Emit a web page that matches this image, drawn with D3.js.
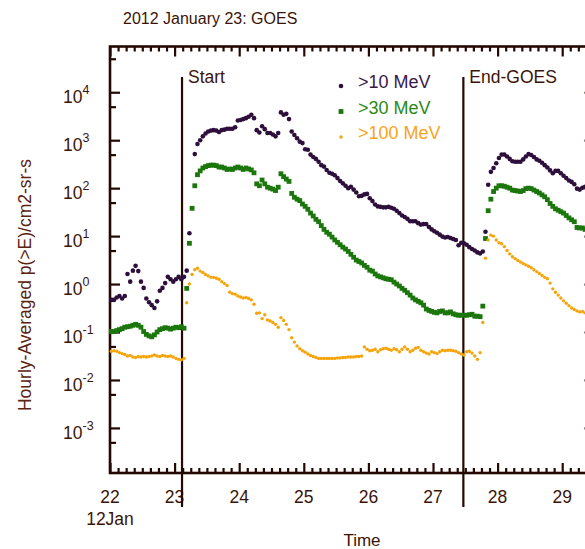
<!DOCTYPE html>
<html>
<head>
<meta charset="utf-8">
<script src="https://cdn.jsdelivr.net/npm/d3@7"></script>
<style>
	body { margin: 0; background: #fff; }
	svg { display: block; font-family: Arial, "Liberation Sans", Helvetica, sans-serif; }
</style>
</head>
<body>
<div id="chart"></div>
<script>
// hourly averaged GOES proton flux, log10 of p(>E)/cm2-sr-s
// first value is the hour 2012 Jan 22 00-01 UT, one value per hour
var startDay = 22;
var p10log = [
	-0.33,-0.33,-0.28,-0.25,-0.30,-0.25,0.21,0.05,0.28,0.38,0.27,0.05,-0.08,-0.30,-0.38,-0.44,-0.50,-0.36,-0.14,-0.08,0.02,0.15,0.10,0.05,0.10,0.15,0.10,0.15,
	0.28,1.06,null,2.71,2.92,3.00,3.08,3.14,3.18,3.20,3.21,3.20,3.17,3.21,3.22,3.24,3.24,3.24,3.27,3.41,3.42,3.44,3.46,3.49,3.53,3.46,3.21,3.16,3.29,3.23,3.15,3.15,3.12,3.08,3.15,3.58,3.53,3.55,3.44,3.18,3.11,3.04,2.97,2.94,2.81,2.80,2.70,2.65,2.61,2.55,
	2.48,2.45,2.38,2.32,2.30,2.27,2.21,2.15,2.10,2.05,2.00,2.03,1.97,1.91,1.83,1.84,1.87,1.88,1.79,1.73,1.66,1.62,1.61,1.60,1.60,1.61,1.59,1.57,1.53,1.48,1.43,1.40,1.36,1.31,1.31,1.31,1.27,1.24,1.25,1.25,1.19,1.14,1.10,1.07,1.03,0.99,0.97,0.98,0.96,0.94,0.92,0.81,0.86,0.85,0.82,0.77,0.73,0.70,0.66,0.64,0.68,
	1.09,2.07,2.34,2.42,2.52,2.63,2.70,2.70,2.66,2.61,2.56,2.55,2.55,2.55,2.60,2.66,2.71,2.69,2.65,2.60,2.57,2.53,2.48,2.43,2.37,2.31,2.36,2.36,2.31,2.26,2.21,2.16,2.13,2.08,1.99,1.97,2.01,2.03
];
var p30log = [
	-0.99,-0.99,-0.97,-0.95,-0.93,-0.90,-0.89,-0.88,-0.86,-0.84,-0.86,-0.90,-0.99,-1.05,-1.08,-1.10,-1.06,-1.00,-0.95,-0.93,-0.91,-0.92,-0.94,-0.92,-0.90,-0.91,-0.89,-0.92,
	-0.09,0.85,1.58,2.05,2.28,2.36,2.42,2.45,2.47,2.48,2.48,2.47,2.44,2.44,2.42,2.39,2.40,2.39,2.42,2.44,2.42,2.39,2.42,2.40,2.38,2.32,2.09,2.05,2.17,2.09,2.02,2.00,1.98,1.95,2.02,2.30,2.24,2.19,2.14,1.89,1.81,1.77,1.74,1.67,1.62,1.56,1.48,1.42,1.35,1.30,
	1.22,1.14,1.08,1.04,0.98,0.92,0.87,0.82,0.77,0.73,0.68,0.62,0.56,0.50,0.47,0.44,0.39,0.35,0.29,0.27,0.21,0.17,0.15,0.13,0.11,0.10,0.09,0.04,0.00,-0.04,-0.09,-0.13,-0.18,-0.23,-0.29,-0.33,-0.36,-0.39,-0.44,-0.52,-0.55,-0.57,-0.59,-0.60,-0.57,-0.56,-0.60,-0.60,-0.58,-0.62,-0.64,-0.65,-0.65,-0.65,-0.65,-0.64,-0.63,-0.67,-0.67,-0.68,-0.46,
	0.95,1.53,1.77,1.93,2.00,2.05,2.05,2.04,2.02,2.00,1.96,1.95,1.94,1.93,1.95,1.99,2.00,1.99,1.96,1.93,1.90,1.86,1.82,1.76,1.68,1.62,1.57,1.54,1.51,1.48,1.43,1.38,1.34,1.30,1.18,1.17,1.17,1.14
];
var p100log = [
	-1.40,-1.39,-1.40,-1.43,-1.45,-1.47,-1.50,-1.49,-1.52,-1.53,-1.51,-1.52,-1.51,-1.52,-1.51,-1.50,-1.48,-1.50,-1.51,-1.49,-1.50,-1.51,-1.50,-1.52,-1.55,-1.57,-1.58,-1.55,
	-0.39,0.00,0.20,0.30,0.33,0.27,0.24,0.20,0.17,0.14,0.14,0.12,0.10,0.05,0.01,-0.03,-0.17,-0.20,-0.21,-0.25,-0.27,-0.29,-0.28,-0.30,-0.33,-0.42,-0.61,-0.60,-0.72,-0.64,-0.75,-0.77,-0.80,-0.84,-0.90,-0.70,-0.76,-0.84,-0.95,-1.12,-1.21,-1.29,-1.35,-1.39,-1.42,-1.46,-1.49,-1.51,-1.53,-1.55,
	-1.55,-1.55,-1.55,-1.55,-1.55,-1.55,-1.54,-1.54,-1.53,-1.53,-1.52,-1.52,-1.52,-1.51,-1.51,-1.50,-1.31,-1.36,-1.39,-1.38,-1.36,-1.41,-1.37,-1.35,-1.34,-1.36,-1.38,-1.35,-1.37,-1.41,-1.36,-1.31,-1.36,-1.41,-1.38,-1.34,-1.32,-1.38,-1.41,-1.44,-1.46,-1.41,-1.43,-1.45,-1.41,-1.38,-1.39,-1.38,-1.38,-1.39,-1.40,-1.43,-1.46,-1.48,-1.41,-1.40,-1.44,-1.50,-1.57,-1.43,-0.80,
	0.54,0.92,1.02,1.00,0.92,0.86,0.84,0.78,0.70,0.63,0.57,0.53,0.49,0.46,0.43,0.40,0.37,0.34,0.30,0.26,0.22,0.18,0.14,0.11,0.02,-0.10,-0.17,-0.23,-0.29,-0.35,-0.40,-0.45,-0.50,-0.53,-0.56,-0.58,-0.57,-0.60
];

var seriesNames = ['>10 MeV', '>30 MeV', '>100 MeV'];
var dayTicks = [22, 23, 24, 25, 26, 27, 28, 29];
var decadeTicks = [-3, -2, -1, 0, 1, 2, 3, 4];
var eventLines = [{ day: 23.115, label: 'Start' }, { day: 27.47, label: 'End-GOES' }];

var params = {
	width: 585, height: 549,
	left: 110, right: 594.5, top: 46.5, bottom: 473,
	axisColor: '#240801', textColor: '#3a1407',
	colors: ['#2e0f3c', '#1b760c', '#f6a40a'],
	legendColors: ['#3a1848', '#2a8a12', '#f5a51a']
};

var svg = d3.select('#chart').append('svg')
	.attr('width', params.width)
	.attr('height', params.height);

var x = d3.scaleLinear().domain([22, 29.5]).range([params.left, params.right]);
var y = d3.scaleLog().domain([Math.pow(10, -3.94), Math.pow(10, 4.954)]).range([params.bottom, params.top]);

// minor time ticks every 3 hours
var minorDays = d3.range(22 * 8, 29.5 * 8 + 1).map(function(d) { return d / 8; })
	.filter(function(d) { return d % 1 !== 0; });
var majorFlux = decadeTicks.map(function(e) { return Math.pow(10, e); });
var minorFlux = d3.range(-4, 5).map(function(e) { return 5 * Math.pow(10, e); })
	.filter(function(v) { return v > y.domain()[0] && v < y.domain()[1]; });

function styleAxis(g) {
	g.select('.domain').remove();
	g.selectAll('line').attr('stroke', params.axisColor).attr('stroke-width', 2.2);
}

// time axes, ticks pointing inward
svg.append('g').attr('transform', 'translate(0,' + params.bottom + ')')
	.call(d3.axisBottom(x).tickValues(dayTicks).tickSize(-10).tickFormat(''))
	.call(styleAxis);
svg.append('g').attr('transform', 'translate(0,' + params.bottom + ')')
	.call(d3.axisBottom(x).tickValues(minorDays).tickSize(-5).tickFormat(''))
	.call(styleAxis);
svg.append('g').attr('transform', 'translate(0,' + params.top + ')')
	.call(d3.axisTop(x).tickValues(dayTicks).tickSize(-10).tickFormat(''))
	.call(styleAxis);
svg.append('g').attr('transform', 'translate(0,' + params.top + ')')
	.call(d3.axisTop(x).tickValues(minorDays).tickSize(-5).tickFormat(''))
	.call(styleAxis);

// flux axes, ticks pointing inward
[[d3.axisLeft, params.left], [d3.axisRight, params.right]].forEach(function(a) {
	svg.append('g').attr('transform', 'translate(' + a[1] + ',0)')
		.call(a[0](y).tickValues(majorFlux).tickSize(-10).tickFormat(''))
		.call(styleAxis);
	svg.append('g').attr('transform', 'translate(' + a[1] + ',0)')
		.call(a[0](y).tickValues(minorFlux).tickSize(-6).tickFormat(''))
		.call(styleAxis);
});

// frame
svg.append('rect')
	.attr('x', params.left).attr('y', params.top)
	.attr('width', params.right - params.left).attr('height', params.bottom - params.top)
	.attr('fill', 'none').attr('stroke', params.axisColor).attr('stroke-width', 2.6);

// y tick labels 10^n
var yLab = svg.selectAll('.ylab').data(decadeTicks).enter()
	.append('text').attr('class', 'ylab')
	.attr('x', 63).attr('y', function(d) { return y(Math.pow(10, d)) + 11; })
	.attr('fill', params.textColor).style('font-size', '17.5px');
yLab.append('tspan').text('10');
yLab.append('tspan').attr('dy', -9).style('font-size', '12.5px').text(function(d) { return d; });

// x tick labels
svg.selectAll('.xlab').data(dayTicks).enter()
	.append('text').attr('class', 'xlab')
	.attr('x', function(d) { return x(d); }).attr('y', 503)
	.attr('text-anchor', 'middle').attr('fill', params.textColor).style('font-size', '17.5px')
	.text(function(d) { return d; });
svg.append('text').attr('x', x(22)).attr('y', 525).attr('text-anchor', 'middle')
	.attr('fill', params.textColor).style('font-size', '17.5px').text('12Jan');

svg.append('text').attr('x', 362).attr('y', 546).attr('text-anchor', 'middle')
	.attr('fill', params.textColor).style('font-size', '17px').text('Time');

svg.append('text')
	.attr('transform', 'translate(31,285) rotate(-90)')
	.attr('text-anchor', 'middle').attr('fill', '#5a2410').style('font-size', '17.5px')
	.text('Hourly-Averaged p(>E)/cm2-sr-s');

svg.append('text').attr('x', 123).attr('y', 24)
	.attr('fill', params.textColor).style('font-size', '16px')
	.text('2012 January 23: GOES');

// event markers
svg.selectAll('.evline').data(eventLines).enter()
	.append('line').attr('class', 'evline')
	.attr('x1', function(d) { return x(d.day); }).attr('x2', function(d) { return x(d.day); })
	.attr('y1', 77).attr('y2', 507)
	.attr('stroke', params.axisColor).attr('stroke-width', 2.2);
svg.selectAll('.evlab').data(eventLines).enter()
	.append('text').attr('class', 'evlab')
	.attr('x', function(d) { return x(d.day) + 6; }).attr('y', 83)
	.attr('fill', params.textColor).style('font-size', '17.5px')
	.text(function(d) { return d.label; });

// data
function toPoints(vals) {
	return vals.map(function(v, i) {
		return { t: startDay + (i + 0.5) / 24, v: v === null ? null : Math.pow(10, v) };
	}).filter(function(d) { return d.v !== null && x(d.t) <= params.width + 5; });
}

var plot = svg.append('g');

function drawMarker(sel, k, color) {
	if (k === 1) {
		sel.append('rect').attr('width', 4.8).attr('height', 4.8)
			.attr('x', -2.4).attr('y', -2.4).attr('fill', color);
	} else {
		sel.append('circle').attr('r', k === 0 ? 2.3 : 1.7).attr('fill', color);
	}
}

[p10log, p30log, p100log].forEach(function(vals, k) {
	plot.selectAll('.pt' + k).data(toPoints(vals)).enter()
		.append('g').attr('class', 'pt' + k)
		.attr('transform', function(d) { return 'translate(' + x(d.t) + ',' + y(d.v) + ')'; })
		.call(drawMarker, k, params.colors[k]);
});

// legend
var legend = svg.selectAll('.leg').data(seriesNames).enter()
	.append('g').attr('class', 'leg')
	.attr('transform', function(d, i) { return 'translate(341,' + (86 + i * 25.5) + ')'; });
legend.each(function(d, i) { d3.select(this).call(drawMarker, i, params.colors[i]); });
legend.append('text').attr('x', 17).attr('y', 2)
	.attr('fill', function(d, i) { return params.legendColors[i]; })
	.style('font-size', '18px')
	.text(function(d) { return d; });
</script>
</body>
</html>
